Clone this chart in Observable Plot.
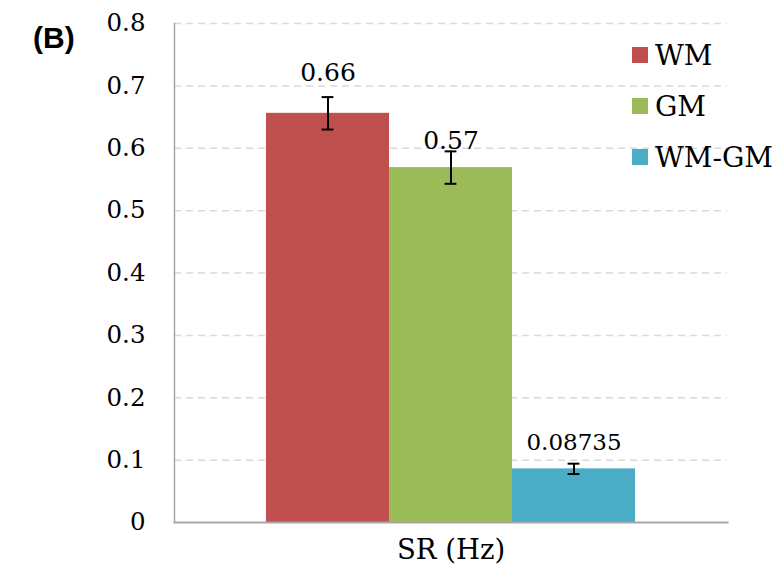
<!DOCTYPE html>
<html>
<head>
<meta charset="utf-8">
<script src="https://cdn.jsdelivr.net/npm/d3@7"></script>
<script src="https://cdn.jsdelivr.net/npm/@observablehq/plot@0.6"></script>
<style>
  html, body { margin: 0; padding: 0; background: white; }
  #wrap { position: relative; width: 778px; height: 580px; }
  #legend { position: absolute; left: 632px; top: 29.5px; font-family: "DejaVu Serif", serif; font-size: 28px; color: #000; }
  .item { display: flex; align-items: center; height: 51px; }
  .sw { width: 16px; height: 16px; margin-right: 7px; }
</style>
</head>
<body>
<div id="wrap"></div>
<script>
const categories = ["WM", "GM", "WM-GM"];
const values = [0.656, 0.569, 0.086];
const errors = [0.026, 0.026, 0.0083];
const valueLabels = ["0.66", "0.57", "0.08735"];
const colors = ["#c0504d", "#9bbb59", "#4bacc6"];
const yTicks = [0, 0.1, 0.2, 0.3, 0.4, 0.5, 0.6, 0.7, 0.8];
const yTickLabels = ["0", "0.1", "0.2", "0.3", "0.4", "0.5", "0.6", "0.7", "0.8"];
const xLabel = "SR (Hz)";
const panelLabel = "(B)";

const data = categories.map((c, i) => ({cat: c, value: values[i], err: errors[i], label: valueLabels[i]}));
const capInset = 55.6;
const serif = "DejaVu Serif";

const chart = Plot.plot({
  width: 778,
  height: 580,
  marginLeft: 174,
  marginRight: 51,
  marginTop: 23,
  marginBottom: 58,
  style: {fontFamily: serif, background: "white", color: "black"},
  x: {domain: categories, paddingInner: 0, paddingOuter: 0.742, axis: null},
  y: {domain: [0, 0.8], axis: null},
  color: {domain: categories, range: colors},
  marks: [
    Plot.ruleY(yTicks.filter(d => d > 0), {stroke: "#d9d9d9", strokeWidth: 1.5, strokeDasharray: "7,5"}),
    Plot.barY(data, {x: "cat", y: "value", fill: "cat"}),
    Plot.ruleX(data, {x: "cat", y1: d => d.value - d.err, y2: d => d.value + d.err, stroke: "black", strokeWidth: 2}),
    Plot.tickY(data, {x: "cat", y: d => d.value + d.err, insetLeft: capInset, insetRight: capInset, stroke: "black", strokeWidth: 2}),
    Plot.tickY(data, {x: "cat", y: d => d.value - d.err, insetLeft: capInset, insetRight: capInset, stroke: "black", strokeWidth: 2}),
    Plot.text(data.filter(d => d.cat === "WM"), {x: "cat", y: "value", text: "label", dy: -40, fontSize: 25, fontFamily: serif, fill: "black"}),
    Plot.text(data.filter(d => d.cat === "GM"), {x: "cat", y: "value", text: "label", dy: -27, fontSize: 25, fontFamily: serif, fill: "black"}),
    Plot.text(data.filter(d => d.cat === "WM-GM"), {x: "cat", y: "value", text: "label", dy: -26.5, fontSize: 23, fontFamily: serif, fill: "black"}),
    Plot.axisY({ticks: yTicks, tickFormat: d => yTickLabels[yTicks.indexOf(d)], tickSize: 0, tickPadding: 29, fontSize: 24.5, fontFamily: serif, label: null}),
    Plot.frame({anchor: "left", stroke: "#a6a6a6", strokeWidth: 1.5}),
    Plot.frame({anchor: "bottom", stroke: "#a6a6a6", strokeWidth: 2}),
    Plot.text([xLabel], {frameAnchor: "bottom", text: d => d, dy: 36, fontSize: 27.5, fontFamily: serif, fill: "black"}),
    Plot.text([panelLabel], {frameAnchor: "top-left", text: d => d, dx: -141.5, dy: 3.4, fontSize: 30, fontWeight: "bold", fontFamily: "Liberation Sans", fill: "black"})
  ]
});

const wrap = document.getElementById("wrap");
wrap.appendChild(chart);
const legend = document.createElement("div");
legend.id = "legend";
categories.forEach((c, i) => {
  const item = document.createElement("div");
  item.className = "item";
  const sw = document.createElement("span");
  sw.className = "sw";
  sw.style.background = colors[i];
  const t = document.createElement("span");
  t.textContent = c;
  item.appendChild(sw);
  item.appendChild(t);
  legend.appendChild(item);
});
wrap.appendChild(legend);
</script>
</body>
</html>
